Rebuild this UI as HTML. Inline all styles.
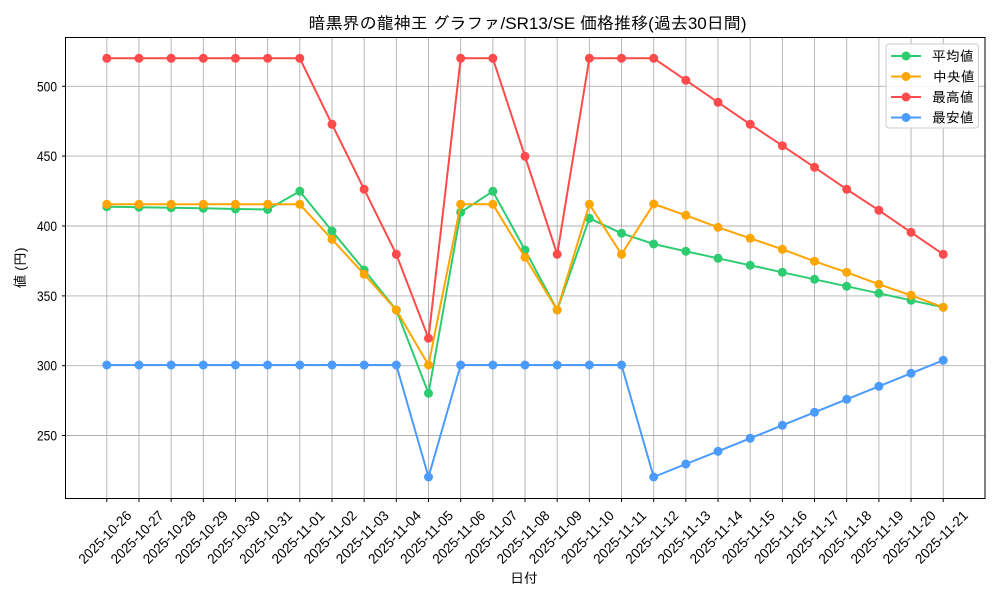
<!DOCTYPE html>
<html><head><meta charset="utf-8"><style>
html,body{margin:0;padding:0;background:#fff;}
svg{display:block;}
text{font-family:"Liberation Sans","IPAGothic","Noto Sans CJK JP",sans-serif;fill:#000;}
</style></head><body>
<svg width="1000" height="600" viewBox="0 0 1000 600" xmlns="http://www.w3.org/2000/svg">
<rect x="0" y="0" width="1000" height="600" fill="#fff"/>
<g id="grid" stroke="#b0b0b0" stroke-width="0.9"></g>
<g id="series"></g>
<rect x="65.5" y="37.5" width="919.5" height="461" fill="none" stroke="#000" stroke-width="1"/>
<g id="ticks" stroke="#000" stroke-width="1"></g>
<g id="labels" font-size="13.9"></g>
<text x="527.5" y="29" font-size="16.7" text-anchor="middle" textLength="438" lengthAdjust="spacingAndGlyphs">暗黒界の龍神王 グラファ/SR13/SE 価格推移(過去30日間)</text>
<text x="524" y="578" font-size="13.9" text-anchor="middle" dominant-baseline="central">日付</text>
<text transform="translate(20,268) rotate(-90)" font-size="13.9" text-anchor="middle" dominant-baseline="central">値 (円)</text>
<g id="legend">
<rect x="886" y="44" width="92.5" height="84" rx="3" fill="#fff" fill-opacity="0.85" stroke="#cccccc" stroke-width="1"/>
<line x1="891" y1="56" x2="921" y2="56" stroke="#2ecc71" stroke-width="2"/><circle cx="906" cy="56" r="4.5" fill="#2ecc71"/>
<line x1="891" y1="76.5" x2="921" y2="76.5" stroke="#ffa500" stroke-width="2"/><circle cx="906" cy="76.5" r="4.5" fill="#ffa500"/>
<line x1="891" y1="97" x2="921" y2="97" stroke="#ff4b4b" stroke-width="2"/><circle cx="906" cy="97" r="4.5" fill="#ff4b4b"/>
<line x1="891" y1="117.5" x2="921" y2="117.5" stroke="#4b9bff" stroke-width="2"/><circle cx="906" cy="117.5" r="4.5" fill="#4b9bff"/>
<text x="932" y="56" font-size="13.9" dominant-baseline="central">平均値</text>
<text x="933" y="76.5" font-size="13.9" dominant-baseline="central">中央値</text>
<text x="932" y="97" font-size="13.9" dominant-baseline="central">最高値</text>
<text x="932" y="117.5" font-size="13.9" dominant-baseline="central">最安値</text>
</g>
</svg>
<script>
(function(){
var NS="http://www.w3.org/2000/svg";
function el(n,a,p){var e=document.createElementNS(NS,n);for(var k in a)e.setAttribute(k,a[k]);p.appendChild(e);return e;}
var dates=["2025-10-26","2025-10-27","2025-10-28","2025-10-29","2025-10-30","2025-10-31","2025-11-01","2025-11-02","2025-11-03","2025-11-04","2025-11-05","2025-11-06","2025-11-07","2025-11-08","2025-11-09","2025-11-10","2025-11-11","2025-11-12","2025-11-13","2025-11-14","2025-11-15","2025-11-16","2025-11-17","2025-11-18","2025-11-19","2025-11-20","2025-11-21"];
function X(i){return 106.8+i*32.17;}
var grid=document.getElementById("grid"),ticks=document.getElementById("ticks"),labels=document.getElementById("labels");
var yt=[[250,435.5],[300,365.7],[350,295.9],[400,226],[450,156.1],[500,86.3]];
for(var i=0;i<dates.length;i++){
 var x=X(i);
 el("line",{x1:x,y1:37.5,x2:x,y2:498.5},grid);
 el("line",{x1:x,y1:498.5,x2:x,y2:502},ticks);
 var t=el("text",{transform:"translate("+(x-2)+",537) rotate(-45)","text-anchor":"middle","dominant-baseline":"central",textLength:"68",lengthAdjust:"spacingAndGlyphs"},labels);
 t.textContent=dates[i];
}
yt.forEach(function(p){
 el("line",{x1:65.5,y1:p[1],x2:985,y2:p[1]},grid);
 el("line",{x1:62,y1:p[1],x2:65.5,y2:p[1]},ticks);
 var t=el("text",{x:57,y:p[1],"text-anchor":"end","dominant-baseline":"central",textLength:"20",lengthAdjust:"spacingAndGlyphs"},labels);
 t.textContent=p[0];
});
var series=[
 ["#2ecc71",[206.7,207.2,207.7,208.3,209.0,209.5,191.3,231,270,310,393.3,212.3,191.3,250,310,218.3,233.3,244,251.3,258.3,265.3,272.3,279.3,286.3,293.3,300.3,307.3]],
 ["#ffa500",[204.3,204.3,204.3,204.3,204.3,204.3,204.3,239.3,274.3,310,365,204.3,204.3,257.3,310,204.3,254.3,204,215.3,227.3,238.3,249.3,261.3,272.3,284.3,295.3,307.3]],
 ["#ff4b4b",[58.3,58.3,58.3,58.3,58.3,58.3,58.3,124.3,189.3,254.3,338.3,58.3,58.3,156.3,254.3,58.3,58.3,58.3,80.3,102.3,124.3,145.7,167.3,189.3,210.3,232.3,254.3]],
 ["#4b9bff",[365,365,365,365,365,365,365,365,365,365,477,365,365,365,365,365,365,477,464,451.3,438.3,425.3,412.3,399.3,386.3,373.3,360.3]]
];
var sg=document.getElementById("series");
series.forEach(function(s){
 var pts=s[1].map(function(y,i){return X(i).toFixed(1)+","+y;}).join(" ");
 el("polyline",{points:pts,fill:"none",stroke:s[0],"stroke-width":"2","stroke-linejoin":"round"},sg);
 s[1].forEach(function(y,i){el("circle",{cx:X(i),cy:y,r:4.5,fill:s[0]},sg);});
});
})();
</script>
</body></html>
